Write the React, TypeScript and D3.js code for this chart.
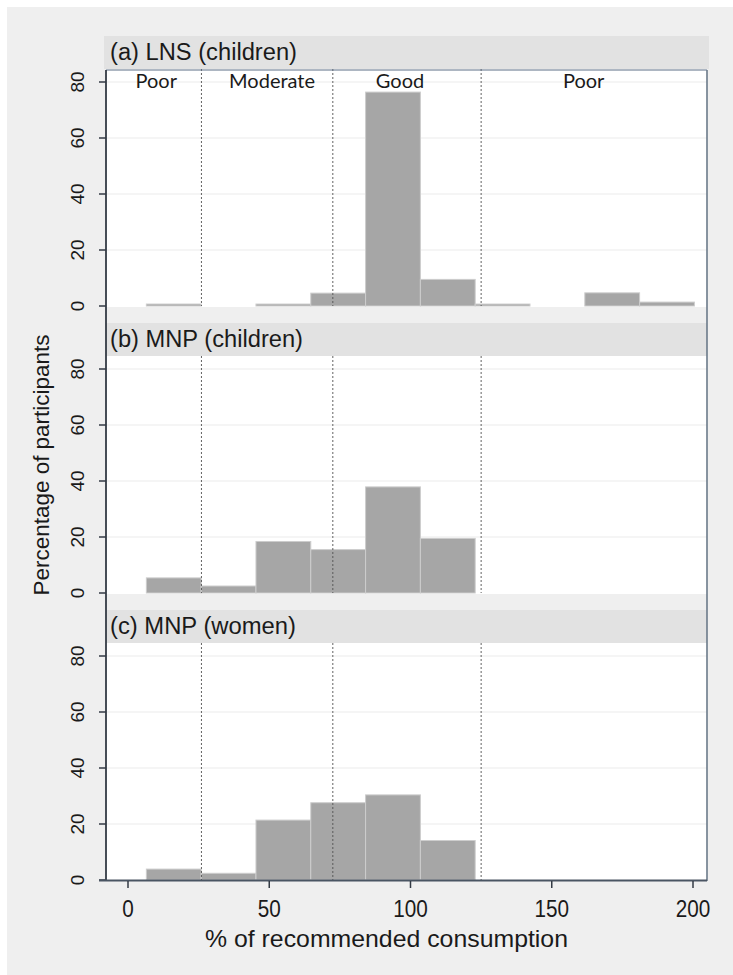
import React from "react";
import * as d3 from "d3";

const binStart = 6.5;
const binWidth = 19.4;
const lnsChildren = [0.7, 0, 0.7, 4.6, 76.4, 9.5, 0.7, 0, 4.7, 1.4];
const mnpChildren = [5.4, 2.5, 18.4, 15.5, 37.9, 19.5, 0, 0, 0, 0];
const mnpWomen = [3.9, 2.4, 21.4, 27.6, 30.4, 14.1, 0, 0, 0, 0];
const panelTitles = ["(a) LNS (children)", "(b) MNP (children)", "(c) MNP (women)"];
const titleWidths = [187, 193, 186];
const cutoffs = [26, 72.5, 125];
const categoryLabels = ["Poor", "Moderate", "Good", "Poor"];
const categoryPositions = [10, 51, 96.3, 161.3];
const xTicks = [0, 50, 100, 150, 200];
const yTicks = [0, 20, 40, 60, 80];

const W = 733;
const H = 975;
const plotLeft = 106;
const plotRight = 707;
const panelZero = [306, 593, 880];
const FONT = "'Liberation Sans', Arial, sans-serif";

export default function App() {
  const x = d3.scaleLinear().domain([0, 200]).range([128, 693]);
  const series = [lnsChildren, mnpChildren, mnpWomen];

  return (
    <svg width={W} height={H} style={{ display: "block", position: "absolute", left: 0, top: 0 }}>
      <rect x={0} y={0} width={W} height={H} fill="#ffffff" />
      <rect x={7} y={7} width={W - 7} height={H - 7} fill="#efefef" />
      {series.map((vals, pi) => {
        const y0 = panelZero[pi];
        const y = d3.scaleLinear().domain([0, 80]).range([y0, y0 - 224]);
        const headerTop = y0 - 270;
        const headerBottom = y0 - 237;
        const whiteTop = y0 - 237;
        return (
          <g key={pi}>
            <rect
              x={pi === 0 ? 104 : plotLeft}
              y={headerTop}
              width={pi === 0 ? 605 : plotRight - plotLeft}
              height={headerBottom - headerTop}
              fill="#e2e2e2"
            />
            <text
              x={110}
              y={y0 - 246}
              fontFamily={FONT}
              fontSize={23}
              fill="#1a1a1a"
              textLength={titleWidths[pi]}
              lengthAdjust="spacingAndGlyphs"
            >
              {panelTitles[pi]}
            </text>
            <rect x={plotLeft} y={whiteTop} width={plotRight - plotLeft} height={y0 - whiteTop + 1} fill="#ffffff" />
            {yTicks.slice(1).map((t) => (
              <line key={t} x1={plotLeft} x2={plotRight} y1={y(t)} y2={y(t)} stroke="#ebebeb" strokeWidth={1.2} />
            ))}
            {vals.map((v, i) =>
              v > 0 ? (
                <rect
                  key={i}
                  x={x(binStart + i * binWidth)}
                  y={y(v)}
                  width={x(binStart + (i + 1) * binWidth) - x(binStart + i * binWidth)}
                  height={y(0) - y(v)}
                  fill="#a6a6a6"
                  stroke="#cdcdcd"
                  strokeWidth={1}
                />
              ) : null
            )}
            {cutoffs.map((c) => (
              <line
                key={c}
                x1={x(c)}
                x2={x(c)}
                y1={whiteTop}
                y2={y0}
                stroke="#505050"
                strokeWidth={0.9}
                strokeDasharray="2,2"
              />
            ))}
            {yTicks.map((t) => (
              <g key={t}>
                <line x1={plotLeft - 7} x2={plotLeft} y1={y(t)} y2={y(t)} stroke="#333a44" strokeWidth={1.5} />
                <text
                  transform={`translate(84,${y(t)}) rotate(-90)`}
                  textAnchor="middle"
                  fontFamily={FONT}
                  fontSize={19}
                  fill="#1a1a1a"
                >
                  {t}
                </text>
              </g>
            ))}
            {pi === 0 &&
              categoryLabels.map((lab, i) => (
                <text
                  key={i}
                  x={x(categoryPositions[i])}
                  y={88}
                  textAnchor="middle"
                  fontFamily="Lato, 'Open Sans', sans-serif"
                  fontSize={20}
                  fill="#1a1a1a"
                >
                  {lab}
                </text>
              ))}
          </g>
        );
      })}
      {/* frame */}
      <line x1={plotLeft} x2={plotRight} y1={70} y2={70} stroke="#5d6f85" strokeWidth={1.2} />
      <line x1={plotRight} x2={plotRight} y1={70} y2={881} stroke="#6b7a8a" strokeWidth={1.6} />
      <line x1={plotLeft} x2={plotLeft} y1={70} y2={881} stroke="#333a44" strokeWidth={1.8} />
      <line x1={plotLeft - 7} x2={plotRight} y1={880.5} y2={880.5} stroke="#4a5563" strokeWidth={2} />
      {xTicks.map((t) => (
        <g key={t}>
          <line x1={x(t)} x2={x(t)} y1={881} y2={888} stroke="#333a44" strokeWidth={1.5} />
          <text
            transform={`translate(${x(t)},917) scale(0.9,1)`}
            textAnchor="middle"
            fontFamily={FONT}
            fontSize={23}
            fill="#1a1a1a"
          >
            {t}
          </text>
        </g>
      ))}
      <text
        x={205}
        y={947}
        fontFamily={FONT}
        fontSize={24}
        fill="#1a1a1a"
        textLength={363}
        lengthAdjust="spacingAndGlyphs"
      >
        % of recommended consumption
      </text>
      <text
        transform="translate(49,465) rotate(-90)"
        textAnchor="middle"
        fontFamily={FONT}
        fontSize={22}
        fill="#1a1a1a"
        textLength={261}
        lengthAdjust="spacingAndGlyphs"
      >
        Percentage of participants
      </text>
    </svg>
  );
}
